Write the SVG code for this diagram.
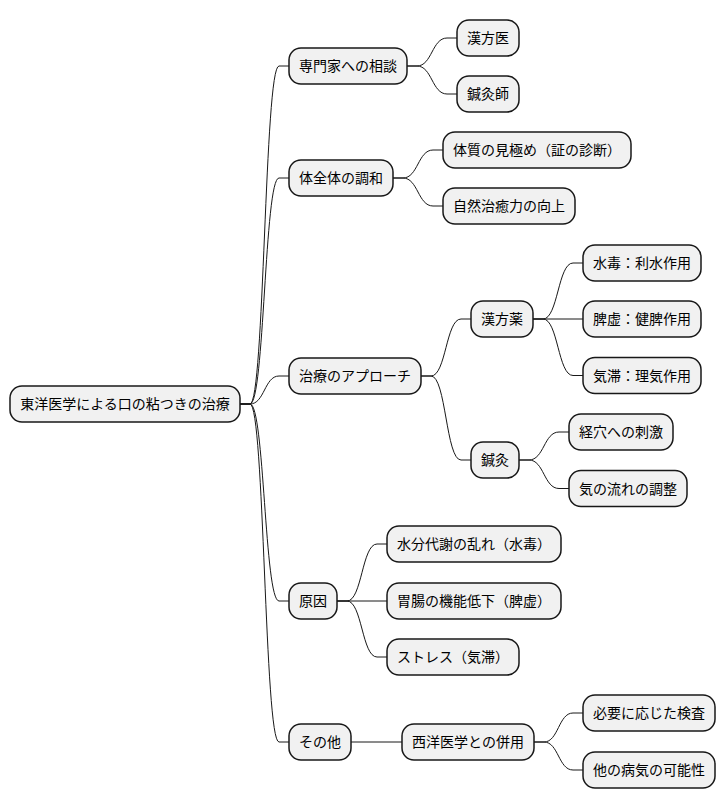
<svg xmlns="http://www.w3.org/2000/svg" width="726" height="809" viewBox="0 0 726 809">
<style>
.n rect{fill:#F1F1F1;stroke:#181818;stroke-width:1.5}
.n text{font-family:"Noto Sans CJK JP","Noto Sans",sans-serif;font-size:14px;fill:#000;text-anchor:middle}
#connectors path{fill:none;stroke:#181818;stroke-width:1}
</style>
<rect width="726" height="809" fill="#FFFFFF"/>
<g id="connectors">
<path d="M240,404 L250,404 C264.5,404 264.5,66 279,66 L289,66"/>
<path d="M240,404 L250,404 C264.5,404 264.5,178 279,178 L289,178"/>
<path d="M240,404 L250,404 C264.5,404 264.5,376 279,376 L289,376"/>
<path d="M240,404 L250,404 C264.5,404 264.5,601 279,601 L289,601"/>
<path d="M240,404 L250,404 C264.5,404 264.5,742 279,742 L289,742"/>
<path d="M407,66 L417,66 C432,66 432,38 447,38 L457,38"/>
<path d="M407,66 L417,66 C432,66 432,94 447,94 L457,94"/>
<path d="M393,178 L403,178 C418,178 418,150 433,150 L443,150"/>
<path d="M393,178 L403,178 C418,178 418,206 433,206 L443,206"/>
<path d="M421,376 L431,376 C446,376 446,319 461,319 L471,319"/>
<path d="M421,376 L431,376 C446,376 446,460 461,460 L471,460"/>
<path d="M533,319 L543,319 C558,319 558,263 573,263 L583,263"/>
<path d="M533,319 L583,319"/>
<path d="M533,319 L543,319 C558,319 558,375.5 573,375.5 L583,375.5"/>
<path d="M519,460 L529,460 C544,460 544,432 559,432 L569,432"/>
<path d="M519,460 L529,460 C544,460 544,488.5 559,488.5 L569,488.5"/>
<path d="M337,601 L347,601 C362,601 362,544 377,544 L387,544"/>
<path d="M337,601 L387,601"/>
<path d="M337,601 L347,601 C362,601 362,657 377,657 L387,657"/>
<path d="M351,742 L402,742"/>
<path d="M534,742 L544,742 C558.5,742 558.5,713 573,713 L583,713"/>
<path d="M534,742 L544,742 C558.5,742 558.5,770 573,770 L583,770"/>
</g>
<g id="root" class="n"><rect x="10" y="386" width="230" height="36" rx="12"/><text x="125" y="409">東洋医学による口の粘つきの治療</text></g>
<g id="n1" class="n"><rect x="289" y="48" width="118" height="36" rx="12"/><text x="348" y="71">専門家への相談</text></g>
<g id="n1a" class="n"><rect x="457" y="20" width="62" height="36" rx="12"/><text x="488" y="43">漢方医</text></g>
<g id="n1b" class="n"><rect x="457" y="76" width="62" height="36" rx="12"/><text x="488" y="99">鍼灸師</text></g>
<g id="n2" class="n"><rect x="289" y="160" width="104" height="36" rx="12"/><text x="341" y="183">体全体の調和</text></g>
<g id="n2a" class="n"><rect x="443" y="132" width="188" height="36" rx="12"/><text x="537" y="155">体質の見極め（証の診断）</text></g>
<g id="n2b" class="n"><rect x="443" y="188" width="132" height="36" rx="12"/><text x="509" y="211">自然治癒力の向上</text></g>
<g id="n3" class="n"><rect x="289" y="358" width="132" height="36" rx="12"/><text x="355" y="381">治療のアプローチ</text></g>
<g id="n3a" class="n"><rect x="471" y="301" width="62" height="36" rx="12"/><text x="502" y="324">漢方薬</text></g>
<g id="n3a1" class="n"><rect x="583" y="245" width="118" height="36" rx="12"/><text x="642" y="268">水毒：利水作用</text></g>
<g id="n3a2" class="n"><rect x="583" y="301" width="118" height="36" rx="12"/><text x="642" y="324">脾虚：健脾作用</text></g>
<g id="n3a3" class="n"><rect x="583" y="357.5" width="118" height="36" rx="12"/><text x="642" y="380.5">気滞：理気作用</text></g>
<g id="n3b" class="n"><rect x="471" y="442" width="48" height="36" rx="12"/><text x="495" y="465">鍼灸</text></g>
<g id="n3b1" class="n"><rect x="569" y="414" width="104" height="36" rx="12"/><text x="621" y="437">経穴への刺激</text></g>
<g id="n3b2" class="n"><rect x="569" y="470.5" width="118" height="36" rx="12"/><text x="628" y="493.5">気の流れの調整</text></g>
<g id="n4" class="n"><rect x="289" y="583" width="48" height="36" rx="12"/><text x="313" y="606">原因</text></g>
<g id="n4a" class="n"><rect x="387" y="526" width="174" height="36" rx="12"/><text x="474" y="549">水分代謝の乱れ（水毒）</text></g>
<g id="n4b" class="n"><rect x="387" y="583" width="174" height="36" rx="12"/><text x="474" y="606">胃腸の機能低下（脾虚）</text></g>
<g id="n4c" class="n"><rect x="387" y="639" width="132" height="36" rx="12"/><text x="453" y="662">ストレス（気滞）</text></g>
<g id="n5" class="n"><rect x="289" y="724" width="62" height="36" rx="12"/><text x="320" y="747">その他</text></g>
<g id="n5a" class="n"><rect x="402" y="724" width="132" height="36" rx="12"/><text x="468" y="747">西洋医学との併用</text></g>
<g id="n5a1" class="n"><rect x="583" y="695" width="132" height="36" rx="12"/><text x="649" y="718">必要に応じた検査</text></g>
<g id="n5a2" class="n"><rect x="583" y="752" width="132" height="36" rx="12"/><text x="649" y="775">他の病気の可能性</text></g>
</svg>
